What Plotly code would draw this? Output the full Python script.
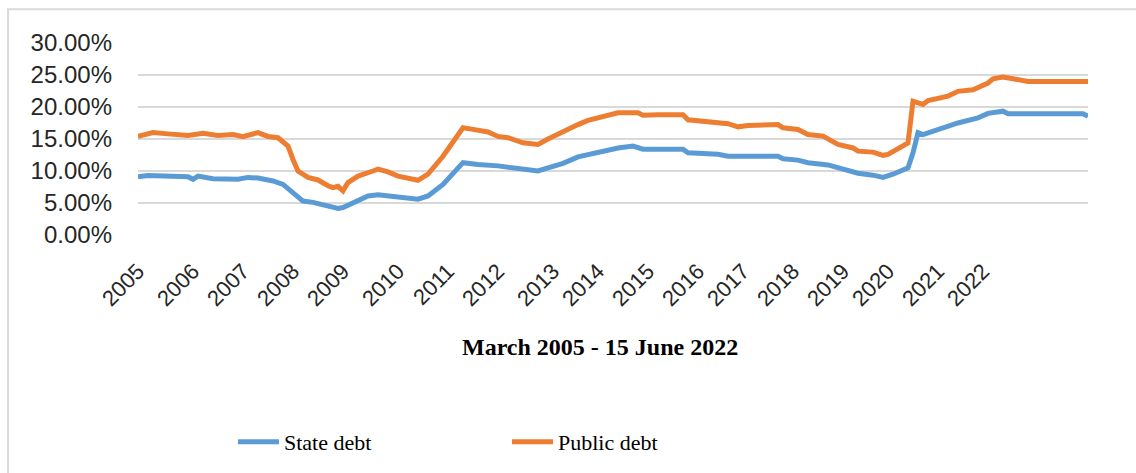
import plotly.graph_objects as go

# Observation index (position along the category axis) and values in %
state_idx = [0, 2, 10, 11, 12, 15, 20, 22, 24, 27, 29, 31, 33, 35, 38, 40, 41, 43, 46, 48, 50, 53, 56, 58,
             61, 65, 68, 72, 76, 80, 82, 85, 88, 90, 93, 96, 99, 101, 109, 110, 116, 118, 128, 129, 132,
             134, 138, 142, 144, 147, 149, 151, 154, 155, 156, 157, 160, 164, 168, 170, 173, 174, 189, 190]
state_debt = [9.1, 9.3, 9.1, 8.7, 9.2, 8.8, 8.7, 9.0, 8.9, 8.45, 7.9, 6.6, 5.3, 5.1, 4.55, 4.15, 4.3, 5.1,
              6.1, 6.3, 6.1, 5.75, 5.6, 6.1, 7.9, 11.3, 11.0, 10.8, 10.4, 10.0, 10.5, 11.2, 12.2, 12.6,
              13.1, 13.6, 13.9, 13.4, 13.4, 12.85, 12.6, 12.3, 12.3, 11.9, 11.7, 11.3, 10.95, 10.0, 9.65,
              9.35, 9.0, 9.5, 10.5, 12.85, 16.0, 15.7, 16.5, 17.5, 18.3, 19.0, 19.35, 18.95, 18.95, 18.55]

public_idx = [0, 3, 6, 10, 13, 16, 19, 21, 24, 26, 28, 30, 31, 32, 34, 36, 38, 39, 40, 41, 42, 44, 47, 48,
              50, 52, 56, 58, 61, 63, 65, 67, 70, 72, 74, 77, 80, 82, 85, 88, 90, 93, 96, 100, 101, 104,
              109, 110, 113, 116, 118, 120, 122, 128, 129, 132, 134, 137, 140, 143, 144, 147, 149, 150,
              152, 154, 155, 157, 158, 162, 164, 167, 170, 171, 173, 176, 178, 190]
public_debt = [15.4, 16.0, 15.8, 15.55, 15.9, 15.55, 15.7, 15.35, 16.0, 15.4, 15.2, 13.9, 11.8, 10.0, 9.0,
               8.6, 7.7, 7.4, 7.6, 6.9, 8.2, 9.2, 10.0, 10.3, 9.85, 9.2, 8.55, 9.5, 12.3, 14.7, 16.75,
               16.5, 16.1, 15.4, 15.2, 14.4, 14.15, 15.0, 16.2, 17.25, 17.9, 18.55, 19.1, 19.1, 18.7, 18.8,
               18.8, 18.0, 17.8, 17.65, 17.4, 16.9, 17.1, 17.25, 16.75, 16.5, 15.7, 15.45, 14.15, 13.6,
               13.1, 12.95, 12.45, 12.6, 13.4, 14.4, 20.9, 20.4, 21.0, 21.7, 22.45, 22.7, 23.75, 24.4,
               24.7, 24.25, 24.0, 24.0]

year_ticks = [0, 11, 21, 31, 41, 52, 62, 72, 83, 92, 102, 112, 121, 131, 141, 150, 160, 169]
year_labels = [str(y) for y in range(2005, 2023)]

y_ticks = [0, 5, 10, 15, 20, 25, 30]

fig = go.Figure()
fig.add_trace(go.Scatter(x=state_idx, y=state_debt, mode="lines", name="State debt",
                         line=dict(color="#5B9BD5", width=5)))
fig.add_trace(go.Scatter(x=public_idx, y=public_debt, mode="lines", name="Public debt",
                         line=dict(color="#ED7D31", width=5)))

fig.update_layout(
    width=1136, height=473,
    margin=dict(l=138, r=48, t=43, b=237),
    paper_bgcolor="white", plot_bgcolor="white",
    showlegend=True,
    legend=dict(orientation="h", x=0.1, xanchor="left", y=-1.067, yanchor="middle",
                font=dict(family="Liberation Serif", size=22, color="#000000"),
                itemwidth=41, entrywidth=218, bgcolor="rgba(0,0,0,0)"),
    xaxis=dict(range=[0, 190], tickmode="array", tickvals=year_ticks, ticktext=year_labels,
               tickangle=-45, showgrid=False, zeroline=False, showline=False, ticks="",
               tickfont=dict(family="Liberation Sans", size=22, color="#262626"),
               ticklabelstandoff=18),
    yaxis=dict(range=[0, 30], tickmode="array", tickvals=y_ticks,
               ticktext=[f"{v:.2f}%" for v in y_ticks],
               showgrid=True, gridcolor="#D9D9D9", gridwidth=2, zeroline=False, showline=False,
               ticks="", tickfont=dict(family="Liberation Sans", size=24, color="#262626"),
               ticklabelstandoff=25),
    annotations=[dict(text="<b>March 2005 - 15 June 2022</b>", xref="paper", yref="paper",
                      x=0.486, y=-0.585, xanchor="center", yanchor="middle", showarrow=False,
                      font=dict(family="Liberation Serif", size=24, color="#000000"))],
    shapes=[dict(type="rect", xref="paper", yref="paper", x0=-0.1368, x1=1.06, y0=-1.3, y1=1.176,
                 line=dict(color="#D9D9D9", width=2), layer="below")],
)

fig.write_html("out.html")
